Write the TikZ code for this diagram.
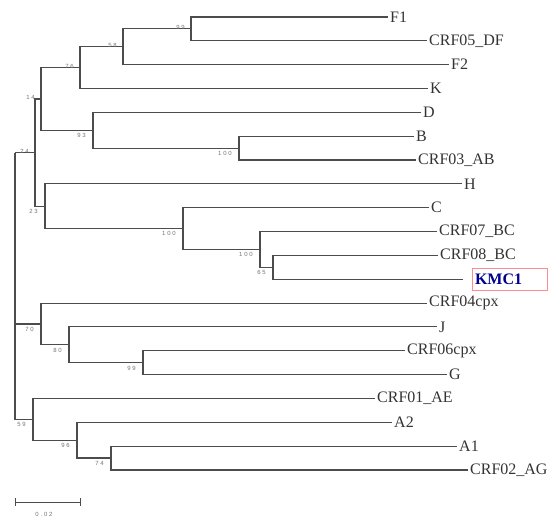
\documentclass[tikz,border=0pt]{standalone}
\usepackage{fontspec}
\setmainfont{Liberation Serif}
\newfontfamily\bsfont[LetterSpace=30]{Liberation Sans}
\usepackage{tikz}

\tikzset{
  ast/.style={draw=black!70, line width=1.1pt},
  blatt/.style={anchor=west, inner sep=2pt, font=\fontsize{16}{18}\selectfont, text=black!80},
  bs/.style={font=\bsfont\fontsize{6}{7}\selectfont, text=black!55, inner sep=0pt}
}

\begin{document}
\begin{tikzpicture}[x=1pt, y=-1pt]
\useasboundingbox (0,0) rectangle (552,517);

% Blaetter
\foreach \n/\t/\x/\y in {f1/F1/388/17, crfdf/CRF05\_DF/427/40.8, f2/F2/449/64.7,
    k/K/428/88.5, d/D/421/112.4, b/B/414/136.2, crfab/CRF03\_AB/416/160,
    h/H/462/183.9, c/C/429/207.7, crfbc/CRF07\_BC/437/231.6,
    crfbcz/CRF08\_BC/438/255.4, crfcpx/CRF04cpx/427/303.1, j/J/437/326.9,
    crfcpxz/CRF06cpx/405/350.8, g/G/447/374.6, crfae/CRF01\_AE/375/398.4,
    a2/A2/392/422.3, a1/A1/457/446.1, crfag/CRF02\_AG/468/470}
{
    \node[blatt] (\n) at (\x,\y) {\t};
}

% eigene Probe
\node[blatt, draw=red!45, line width=0.6pt, text=blue!55!black,
    font={\fontsize{16}{18}\selectfont\bfseries}, outer xsep=9pt,
    inner xsep=3pt, text width=69pt, minimum height=22pt] (kmc) at (463,279.3) {KMC1};

% Innere Knoten
\coordinate (n99) at (191,28.9);
\coordinate (n58) at (123,46.8);
\coordinate (n76) at (80,67.7);
\coordinate (n100a) at (239,148.1);
\coordinate (n93) at (93,130.3);
\coordinate (n14) at (41,99);
\coordinate (n65) at (273,267.4);
\coordinate (n100c) at (260,249.5);
\coordinate (n100b) at (183,228.6);
\coordinate (n23) at (45,206.3);
\coordinate (n24) at (35,152.6);
\coordinate (n99b) at (143,362.7);
\coordinate (n80) at (69,344.8);
\coordinate (n70) at (41,324);
\coordinate (n74) at (111,458);
\coordinate (n96) at (77,440.2);
\coordinate (n59) at (33,419.3);
\coordinate (wurzel) at (15,152.6);

% Aeste
\foreach \p/\c in {n99/f1, n99/crfdf, n58/n99, n58/f2, n76/n58, n76/k,
    n100a/b, n100a/crfab, n93/d, n93/n100a, n14/n76, n14/n93,
    n65/crfbcz, n65/kmc, n100c/crfbc, n100c/n65, n100b/c, n100b/n100c,
    n23/h, n23/n100b, n24/n14, n24/n23,
    n99b/crfcpxz, n99b/g, n80/j, n80/n99b, n70/crfcpx, n70/n80,
    n74/a1, n74/crfag, n96/a2, n96/n74, n59/crfae, n59/n96}
{
    \draw[ast] (\p) |- (\c);
}

% Wurzel
\foreach \c in {n24, n70, n59}
{
    \draw[ast, line width=1.5pt] (wurzel) |- (\c);
}

% Bootstrap-Werte
\foreach \p/\w in {n99/99, n58/58, n76/76, n14/14, n24/24}
{
    \node[bs, anchor=south east] (b\p) at ([xshift=-6pt, yshift=-1pt]\p) {\w};
}
\foreach \p/\w in {n93/93, n100a/100, n23/23, n100b/100, n100c/100, n65/65,
    n70/70, n80/80, n99b/99, n59/59, n96/96, n74/74}
{
    \node[bs, anchor=north east] (b\p) at ([xshift=-7pt, yshift=-3pt]\p) {\w};
}

% Massstab
\coordinate (sa) at (15,502);
\coordinate (sb) at (81,502);
\draw[ast, line width=1pt, |-|] (sa) -- (sb);
\node[bs] (skala) at (44,514) {0.02};

\end{tikzpicture}
\end{document}
